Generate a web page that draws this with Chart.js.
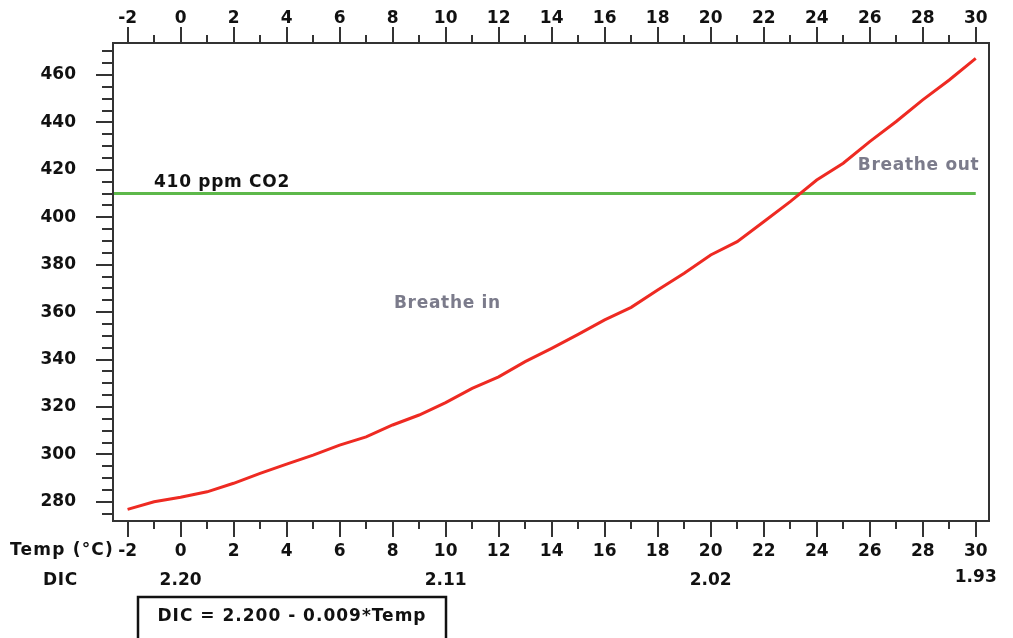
<!DOCTYPE html>
<html>
<head>
<meta charset="utf-8">
<script src="https://cdn.jsdelivr.net/npm/chart.js@4"></script>
<style>
  html, body { margin: 0; padding: 0; background: #fff; }
  canvas { display: block; }
</style>
</head>
<body>
<canvas id="co2Chart" width="1013" height="638"></canvas>
<script>
// temperature (°C) and pCO2 (ppm)
const temps = [-2, -1, 0, 1, 2, 3, 4, 5, 6, 7, 8, 9, 10, 11, 12, 13, 14, 15, 16,
               17, 18, 19, 20, 21, 22, 23, 24, 25, 26, 27, 28, 29, 30];
const pco2 = [276.8, 280.0, 281.9, 284.2, 287.8, 292.0, 295.9, 299.7, 303.9, 307.4,
              312.4, 316.6, 321.8, 327.8, 332.7, 339.1, 344.7, 350.6, 356.7, 362.0,
              369.3, 376.4, 384.1, 389.7, 398.1, 406.6, 415.7, 422.8, 431.9, 440.4,
              449.5, 457.9, 467.0];

const atmosCO2 = 410;

const xMajorTicks = [-2, 0, 2, 4, 6, 8, 10, 12, 14, 16, 18, 20, 22, 24, 26, 28, 30];
const xMinorTicks = [-1, 1, 3, 5, 7, 9, 11, 13, 15, 17, 19, 21, 23, 25, 27, 29];
const yMajorTicks = [280, 300, 320, 340, 360, 380, 400, 420, 440, 460];
const yMinorTicks = [275, 285, 290, 295, 305, 310, 315, 325, 330, 335, 345, 350, 355,
                     365, 370, 375, 385, 390, 395, 405, 410, 415, 425, 430, 435, 445,
                     450, 455, 465, 470];

const dicTemps = [0, 10, 20, 30];
const dicValues = ['2.20', '2.11', '2.02', '1.93'];

const xMin = -2.55, xMax = 30.5;
const yMin = 271.9, yMax = 473.5;

const FONT = 'DejaVu Sans';
const tickFont = { family: FONT, size: 17, weight: 'bold' };

const notes = [
    { text: '410 ppm CO2', x: -1, y: 410, dy: -11, color: '#111' },
    { text: 'Breathe out', x: 25.55, y: 421.6, dy: 0, color: '#7b7b8b' },
    { text: 'Breathe in', x: 8.05, y: 363.8, dy: 0, color: '#7b7b8b' }
];

const decor = {
    id: 'decor',
    afterDraw(chart) {
        const { ctx, chartArea: a } = chart;
        const x = chart.scales.x, y = chart.scales.y;
        ctx.save();
        ctx.strokeStyle = '#333';
        ctx.lineWidth = 2;
        ctx.strokeRect(a.left, a.top, a.right - a.left, a.bottom - a.top);

        ctx.beginPath();
        const xt = (v, len) => {
            const px = Math.round(x.getPixelForValue(v));
            ctx.moveTo(px, a.top); ctx.lineTo(px, a.top - len);
            ctx.moveTo(px, a.bottom); ctx.lineTo(px, a.bottom + len);
        };
        xMajorTicks.forEach(v => xt(v, 16));
        xMinorTicks.forEach(v => xt(v, 8));
        const yt = (v, len) => {
            const py = Math.round(y.getPixelForValue(v));
            ctx.moveTo(a.left, py); ctx.lineTo(a.left - len, py);
        };
        yMajorTicks.forEach(v => yt(v, 17));
        yMinorTicks.forEach(v => yt(v, 11));
        ctx.stroke();

        ctx.font = 'bold 17px ' + FONT;
        ctx.fillStyle = '#111';
        ctx.textBaseline = 'middle';
        ctx.letterSpacing = '1.2px';
        ctx.textAlign = 'right';
        ctx.fillText('Temp (°C)', a.left + 1, 551);
        ctx.letterSpacing = '0.6px';
        ctx.textAlign = 'left';
        ctx.fillText('DIC', 43, 581);
        ctx.letterSpacing = '0px';
        ctx.textAlign = 'center';
        dicTemps.forEach((t, i) => {
            ctx.fillText(dicValues[i], x.getPixelForValue(t), i === dicTemps.length - 1 ? 578 : 581);
        });

        ctx.letterSpacing = '0.7px';
        notes.forEach(n => {
            ctx.fillStyle = n.color;
            ctx.textAlign = 'left';
            ctx.fillText(n.text, x.getPixelForValue(n.x), y.getPixelForValue(n.y) + n.dy);
        });

        ctx.strokeStyle = '#111';
        ctx.lineWidth = 2.5;
        ctx.strokeRect(138, 597, 308, 60);
        ctx.fillStyle = '#111';
        ctx.textAlign = 'center';
        ctx.letterSpacing = '1px';
        ctx.fillText('DIC = 2.200 - 0.009*Temp', 292, 617);
        ctx.restore();
    }
};

const noPad = s => { s.paddingTop = 0; s.paddingBottom = 0; s.paddingLeft = 0; s.paddingRight = 0; };

const axisBase = {
    type: 'linear',
    grid: { display: false, drawTicks: false },
    border: { display: false }
};

new Chart(document.getElementById('co2Chart'), {
    type: 'line',
    data: {
        datasets: [{
            label: 'pCO2',
            data: temps.map((t, i) => ({ x: t, y: pco2[i] })),
            borderColor: '#ee2a22',
            borderWidth: 3,
            pointRadius: 0,
            tension: 0
        }, {
            label: '410 ppm CO2',
            data: [{ x: xMin, y: atmosCO2 }, { x: 30, y: atmosCO2 }],
            borderColor: '#5db84a',
            borderWidth: 3,
            pointRadius: 0
        }]
    },
    options: {
        responsive: false,
        animation: false,
        layout: { autoPadding: false, padding: { top: 0, right: 24, bottom: 0, left: 0 } },
        plugins: { legend: { display: false }, tooltip: { enabled: false } },
        scales: {
            x: {
                ...axisBase,
                position: 'bottom',
                min: xMin, max: xMax,
                ticks: { font: tickFont, color: '#111', padding: 20, maxRotation: 0, autoSkip: false, callback: v => String(v) },
                afterBuildTicks: s => { s.ticks = xMajorTicks.map(v => ({ value: v })); },
                afterFit: s => { s.height = 117; noPad(s); }
            },
            x2: {
                ...axisBase,
                position: 'top',
                min: xMin, max: xMax,
                ticks: { font: tickFont, color: '#111', padding: 14, maxRotation: 0, autoSkip: false, callback: v => String(v) },
                afterBuildTicks: s => { s.ticks = xMajorTicks.map(v => ({ value: v })); },
                afterFit: s => { s.height = 43; noPad(s); }
            },
            y: {
                ...axisBase,
                position: 'left',
                min: yMin, max: yMax,
                ticks: { font: tickFont, color: '#111', padding: 37, autoSkip: false, callback: v => String(v) },
                afterBuildTicks: s => { s.ticks = yMajorTicks.map(v => ({ value: v })); },
                afterFit: s => { s.width = 113; noPad(s); }
            }
        }
    },
    plugins: [decor]
});
</script>
</body>
</html>
